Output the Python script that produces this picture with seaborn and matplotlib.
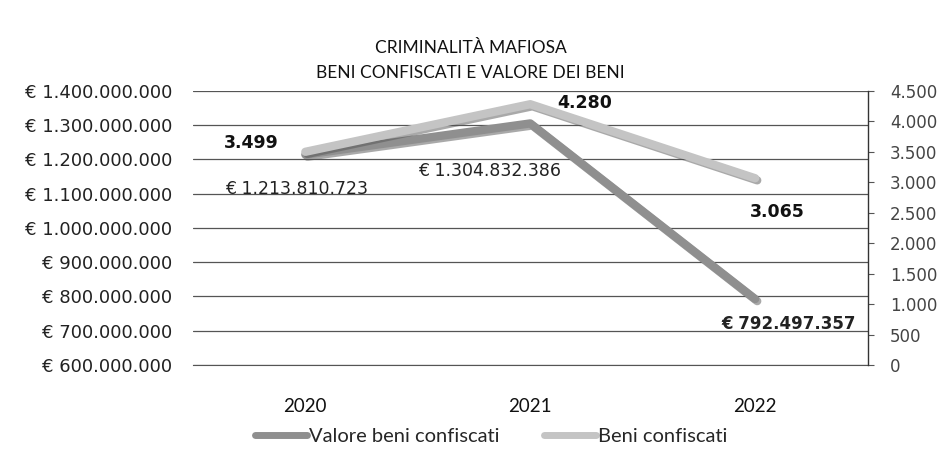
import pandas as pd
import matplotlib
matplotlib.use("Agg")
import matplotlib.pyplot as plt
import matplotlib.patheffects as pe
from matplotlib.lines import Line2D
import seaborn as sns

anni = ["2020", "2021", "2022"]
valore_beni = [1213810723, 1304832386, 792497357]
numero_beni = [3499, 4280, 3065]
valore_label = ["€ 1.213.810.723", "€ 1.304.832.386", "€ 792.497.357"]
numero_label = ["3.499", "4.280", "3.065"]
sx_ticks = [600000000 + 100000000 * i for i in range(9)]
dx_ticks = [500 * i for i in range(10)]

df = pd.DataFrame({"anno": anni, "valore": valore_beni, "beni": numero_beni})
df["x"] = range(len(df))

sns.set_style("white")
plt.rcParams['font.family'] = ['DejaVu Sans']

col_valore = "#8f8f8f"
col_beni = "#c4c4c4"

def fmt_euro(v):
    return "€ " + f"{int(v):,}".replace(",", ".")

def fmt_num(v):
    return f"{int(v):,}".replace(",", ".")

fig = plt.figure(figsize=(9.41, 4.68), dpi=100)
ax = fig.add_axes([0.205, 0.22, 0.717, 0.586])
ax2 = ax.twinx()

ombra = [pe.SimpleLineShadow(offset=(1.5, -1.5), shadow_color="#555555", alpha=0.5), pe.Normal()]
sns.lineplot(data=df, x="x", y="valore", ax=ax, color=col_valore, linewidth=6,
             path_effects=ombra, zorder=3)
sns.lineplot(data=df, x="x", y="beni", ax=ax2, color=col_beni, linewidth=6,
             path_effects=ombra, zorder=3)

ax.set_xlim(-0.5, 2.5)
ax.set_ylim(600000000, 1400000000)
ax2.set_ylim(0, 4500)
ax.set_yticks(sx_ticks)
ax.set_yticklabels([fmt_euro(v) for v in sx_ticks], fontsize=13, color="#222222")
ax2.set_yticks(dx_ticks)
ax2.set_yticklabels([fmt_num(v) for v in dx_ticks], fontsize=12, color="#444444")
ax.set_xticks(df["x"])
ax.set_xticklabels(anni, fontsize=13.5, family="Lato", color="#111111")
ax.tick_params(axis="x", length=0, pad=24)
ax.tick_params(axis="y", length=0, pad=15)
ax2.tick_params(axis="y", length=4, width=0.8, direction="out", color="#555555", pad=12)
ax.set_xlabel("")
ax.set_ylabel("")
ax2.set_ylabel("")

ax.grid(axis="y", color="#555555", linewidth=0.9)
ax.set_axisbelow(True)
for s in ["top", "left", "right"]:
    ax.spines[s].set_visible(False)
for s in ["top", "left"]:
    ax2.spines[s].set_visible(False)
ax.spines["bottom"].set_color("#555555")
ax2.spines["bottom"].set_visible(False)
ax2.spines["right"].set_color("#333333")
ax2.spines["right"].set_linewidth(1.0)

# etichette dei dati
off_valore = [(-0.04, -100000000), (-0.18, -139000000), (0.15, -72000000)]
off_beni = [(-0.24, 140), (0.24, 15), (0.1, -560)]
for i in range(len(df)):
    dx, dy = off_valore[i]
    ax.text(df["x"][i] + dx, valore_beni[i] + dy, valore_label[i], ha="center", va="center",
            fontsize=12.5 if i < 2 else 12, color="#222222",
            fontweight="bold" if i == 2 else "normal", zorder=5)
    dx, dy = off_beni[i]
    ax2.text(df["x"][i] + dx, numero_beni[i] + dy, numero_label[i], ha="center", va="center",
             fontsize=12.5, color="#111111", fontweight="bold", zorder=5)

fig.text(0.5, 0.897, "CRIMINALITÀ MAFIOSA", ha="center", va="center", fontsize=12.5,
         family="Lato", color="#111111")
fig.text(0.5, 0.843, "BENI CONFISCATI E VALORE DEI BENI", ha="center", va="center",
         fontsize=12.5, family="Lato", color="#111111")

handles = [Line2D([0], [0], color=col_valore, linewidth=5),
           Line2D([0], [0], color=col_beni, linewidth=5)]
fig.legend(handles, ["Valore beni confiscati", "Beni confiscati"], loc="center",
           bbox_to_anchor=(0.522, 0.068), ncol=2, frameon=False, handlelength=2.6,
           handletextpad=0.1, columnspacing=2.2, prop={"family": "Lato", "size": 14.5})

fig.savefig("out.png", dpi=100)
